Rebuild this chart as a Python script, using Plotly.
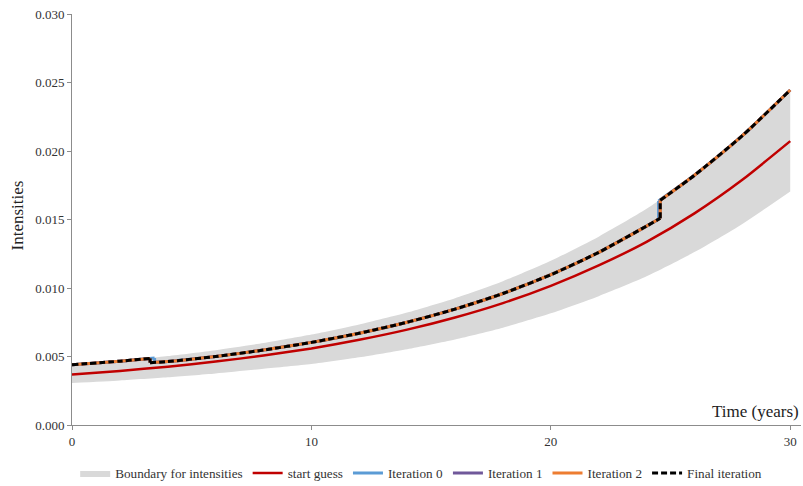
import plotly.graph_objects as go

# Time grid (years) for the smooth curves
years = [0, 2, 4, 6, 8, 10, 12, 14, 16, 18, 20, 22, 24, 26, 28, 30]

# Admissible band for the intensities
boundary_lower = [0.00306, 0.00325, 0.00348, 0.00376, 0.00410, 0.00445, 0.00494, 0.00553,
                  0.00624, 0.00710, 0.00815, 0.00940, 0.01085, 0.01262, 0.01468, 0.01705]
boundary_upper = [0.00440, 0.00466, 0.00503, 0.00546, 0.00598, 0.00660, 0.00734, 0.00821,
                  0.00926, 0.01050, 0.01199, 0.01375, 0.01578, 0.01823, 0.02112, 0.02445]

# Initial guess for the intensities
start_guess = [0.00369, 0.00395, 0.00426, 0.00463, 0.00507, 0.00559, 0.00622, 0.00696,
               0.00785, 0.00890, 0.01016, 0.01165, 0.01337, 0.01545, 0.01790, 0.02072]

# Optimised intensities: three smooth pieces separated by two switches
final_t1 = [0, 2, 3.26]
final_y1 = [0.00440, 0.00466, 0.00486]
final_t2 = [3.26, 4, 6, 8, 10, 12, 14, 16, 18, 20, 22, 24, 24.57]
final_y2 = [0.00455, 0.00463, 0.00500, 0.00547, 0.00603, 0.00670, 0.00750, 0.00846,
            0.00960, 0.01097, 0.01260, 0.01452, 0.01509]
final_t3 = [24.57, 26, 28, 30]
final_y3 = [0.01640, 0.01823, 0.02112, 0.02445]

iter0_t1 = [0, 2, 3.45]
iter0_y1 = [0.00440, 0.00466, 0.00489]
iter0_t2 = [3.45, 4, 6, 8, 10, 12, 14, 16, 18, 20, 22, 24, 24.50]
iter0_y2 = [0.00457, 0.00463, 0.00500, 0.00547, 0.00603, 0.00670, 0.00750, 0.00846,
            0.00960, 0.01097, 0.01260, 0.01452, 0.01501]
iter0_t3 = [24.50, 26, 28, 30]
iter0_y3 = [0.01636, 0.01823, 0.02112, 0.02445]

y_ticks = [0.000, 0.005, 0.010, 0.015, 0.020, 0.025, 0.030]
x_ticks = [0, 10, 20, 30]

FONT = "Liberation Serif, DejaVu Serif, serif"
AXIS_COLOR = "#8c8c8c"
TEXT_COLOR = "#333333"
SMOOTH = dict(shape="spline", smoothing=0.6)


def piecewise(ts, ys):
    """Join smooth pieces with straight vertical switches (None breaks the spline)."""
    xs, vs = [], []
    for i, (t, y) in enumerate(zip(ts, ys)):
        if i > 0:
            # vertical connector from end of previous piece to start of this one
            xs += [None, ts[i - 1][-1], t[0], None]
            vs += [None, ys[i - 1][-1], y[0], None]
        xs += list(t)
        vs += list(y)
    return xs, vs


final_x, final_v = piecewise([final_t1, final_t2, final_t3], [final_y1, final_y2, final_y3])
iter0_x, iter0_v = piecewise([iter0_t1, iter0_t2, iter0_t3], [iter0_y1, iter0_y2, iter0_y3])

fig = go.Figure()

fig.add_trace(go.Scatter(x=years, y=boundary_lower, mode="lines",
                         line=dict(width=0, color="#d9d9d9", **SMOOTH),
                         showlegend=False, hoverinfo="skip"))
fig.add_trace(go.Scatter(x=years, y=boundary_upper, mode="lines", fill="tonexty",
                         fillcolor="#d9d9d9", line=dict(width=0, color="#d9d9d9", **SMOOTH),
                         name="Boundary for intensities"))
fig.add_trace(go.Scatter(x=years, y=start_guess, mode="lines",
                         line=dict(width=2.5, color="#c00000", **SMOOTH), name="start guess"))
fig.add_trace(go.Scatter(x=iter0_x, y=iter0_v, mode="lines",
                         line=dict(width=3, color="#5b9bd5", **SMOOTH), name="Iteration 0"))
# Iterations 1 and 2 coincide with the final iteration
fig.add_trace(go.Scatter(x=final_x, y=final_v, mode="lines",
                         line=dict(width=3, color="#70589a", **SMOOTH), name="Iteration 1"))
fig.add_trace(go.Scatter(x=final_x, y=final_v, mode="lines",
                         line=dict(width=3, color="#ed7d31", **SMOOTH), name="Iteration 2"))
fig.add_trace(go.Scatter(x=final_x, y=final_v, mode="lines",
                         line=dict(width=3, color="#000000", dash="6px,3px", **SMOOTH),
                         name="Final iteration"))

fig.update_layout(
    width=803, height=486,
    margin=dict(l=72, r=2, t=14, b=61, autoexpand=False),
    paper_bgcolor="white", plot_bgcolor="white",
    font=dict(family=FONT, size=13, color=TEXT_COLOR),
    xaxis=dict(range=[0, 30.45], tickvals=x_ticks, showgrid=False, zeroline=False,
               showline=True, linecolor=AXIS_COLOR, linewidth=1,
               ticks="outside", ticklen=4, tickcolor=AXIS_COLOR,
               tickfont=dict(family=FONT, size=13, color=TEXT_COLOR)),
    yaxis=dict(range=[0, 0.030], tickvals=y_ticks, tickformat=".3f", showgrid=False,
               zeroline=False, showline=True, linecolor=AXIS_COLOR, linewidth=1,
               ticks="outside", ticklen=4, tickcolor=AXIS_COLOR,
               tickfont=dict(family=FONT, size=13, color=TEXT_COLOR)),
    legend=dict(orientation="h", x=0.479, xanchor="center", y=-0.118, yanchor="middle",
                traceorder="normal",
                font=dict(family=FONT, size=13.2, color=TEXT_COLOR),
                itemwidth=30, bgcolor="rgba(0,0,0,0)"),
    annotations=[
        dict(text="Intensities", xref="paper", yref="paper", x=-0.0754, y=0.51,
             textangle=-90, showarrow=False, xanchor="center", yanchor="middle",
             font=dict(family=FONT, size=17, color="#222222")),
        dict(text="Time (years)", xref="paper", yref="paper", x=1.0, y=0.005,
             xanchor="right", yanchor="bottom", showarrow=False,
             font=dict(family=FONT, size=17, color="#222222")),
    ],
)

fig.write_html("out.html")
